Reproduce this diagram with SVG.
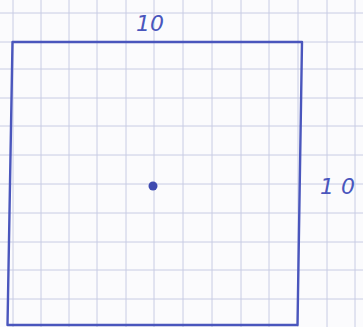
<svg xmlns="http://www.w3.org/2000/svg" width="363" height="327" viewBox="0 0 363 327">
<defs>
<style>
.grid line{stroke:#c8cce4;stroke-width:1}
.pen{stroke:#4a56bd;stroke-width:2.4;fill:none;stroke-linecap:round;stroke-linejoin:round}
.lbl{font-family:"DejaVu Sans",sans-serif;font-style:italic;font-size:22px;fill:#4a56bd}
</style>
</defs>
<rect width="363" height="327" fill="#fbfbfd"/>
<g class="grid">
<line x1="13" y1="0" x2="13" y2="327"/><line x1="41" y1="0" x2="41" y2="327"/><line x1="69" y1="0" x2="69" y2="327"/><line x1="97" y1="0" x2="97" y2="327"/><line x1="126" y1="0" x2="126" y2="327"/><line x1="154" y1="0" x2="154" y2="327"/><line x1="183" y1="0" x2="183" y2="327"/><line x1="212" y1="0" x2="212" y2="327"/><line x1="241" y1="0" x2="241" y2="327"/><line x1="269" y1="0" x2="269" y2="327"/><line x1="298" y1="0" x2="298" y2="327"/><line x1="327" y1="0" x2="327" y2="327"/><line x1="355" y1="0" x2="355" y2="327"/>
<line x1="0" y1="13" x2="363" y2="13"/><line x1="0" y1="42" x2="363" y2="42"/><line x1="0" y1="69" x2="363" y2="69"/><line x1="0" y1="98" x2="363" y2="98"/><line x1="0" y1="126" x2="363" y2="126"/><line x1="0" y1="155" x2="363" y2="155"/><line x1="0" y1="184" x2="363" y2="184"/><line x1="0" y1="213" x2="363" y2="213"/><line x1="0" y1="242" x2="363" y2="242"/><line x1="0" y1="270" x2="363" y2="270"/><line x1="0" y1="299" x2="363" y2="299"/>
</g>
<g id="square">
<path class="pen" d="M12.5,42 L302,42 L297.5,325 L7.5,325 L12.5,42"/>
</g>
<g id="center">
<circle cx="153" cy="186" r="4.5" fill="#3f4bb0"/>
</g>
<g id="labels">
<text class="lbl" x="136" y="31">10</text>
<text class="lbl" x="320" y="194" letter-spacing="7">10</text>
</g>
</svg>
